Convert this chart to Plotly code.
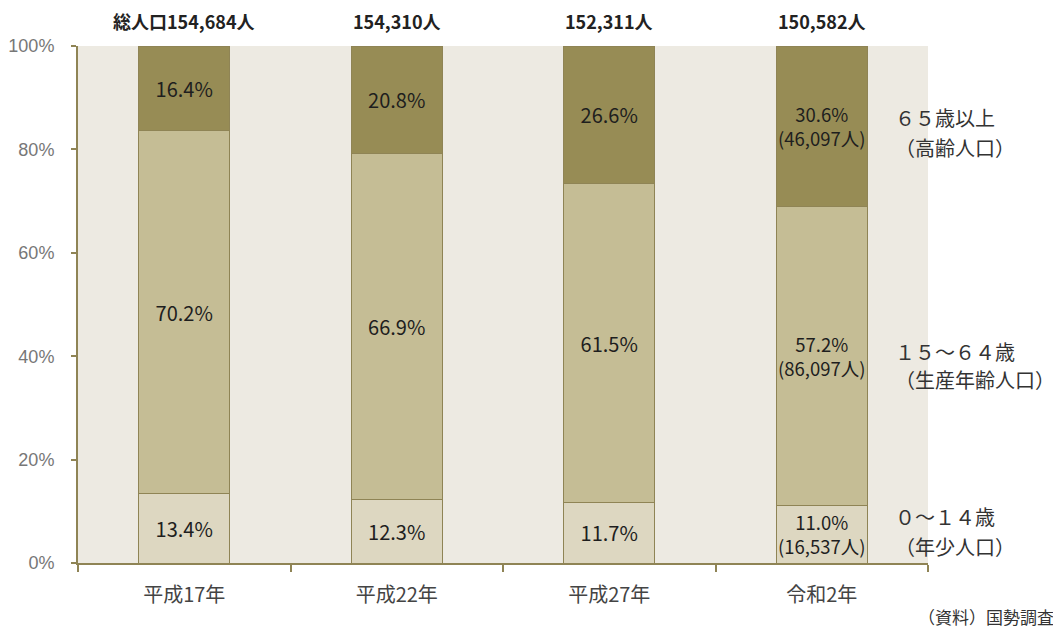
import plotly.graph_objects as go

categories = ["平成17年", "平成22年", "平成27年", "令和2年"]
age_0_14 = [13.4, 12.3, 11.7, 11.0]
age_15_64 = [70.2, 66.9, 61.5, 57.2]
age_65_plus = [16.4, 20.8, 26.6, 30.6]
totals = ["総人口154,684人", "154,310人", "152,311人", "150,582人"]
counts_0_14 = ["", "", "", "16,537人"]
counts_15_64 = ["", "", "", "86,097人"]
counts_65_plus = ["", "", "", "46,097人"]
y_ticks = [0, 20, 40, 60, 80, 100]

FONT = "Noto Sans CJK JP"
olive_line = "#8f8455"


def labels(vals, counts):
    out = []
    for v, c in zip(vals, counts):
        s = f"{v:.1f}%"
        if c:
            s += f"<br>({c})"
        out.append(s)
    return out


series = [
    ("0～14歳", age_0_14, counts_0_14, "#ddd7c1"),
    ("15～64歳", age_15_64, counts_15_64, "#c5bd95"),
    ("65歳以上", age_65_plus, counts_65_plus, "#978c55"),
]

fig = go.Figure()
for name, vals, counts, color in series:
    fig.add_trace(go.Bar(
        x=categories, y=vals, name=name,
        marker=dict(color=color, line=dict(color=olive_line, width=1)),
        text=labels(vals, counts), textposition="inside",
        insidetextanchor="middle", textangle=0, constraintext="none",
        textfont=dict(family=FONT, size=[20 if not c else 18.5 for c in counts],
                      color="#1e1e1e"),
        hoverinfo="skip", width=0.43,
    ))

for cat, t in zip(categories, totals):
    fig.add_annotation(x=cat, y=100, xref="x", yref="y", text=f"<b>{t}</b>",
                       showarrow=False, yanchor="middle", yshift=25,
                       font=dict(family=FONT, size=18, color="#222222"))

side = [
    (0.861, "６５歳以上"), (0.803, "（高齢人口）"),
    (0.410, "１５～６４歳"), (0.354, "（生産年齢人口）"),
    (0.089, "０～１４歳"), (0.031, "（年少人口）"),
]
for yy, t in side:
    fig.add_annotation(x=1.0, y=yy, xref="paper", yref="paper", text=t,
                       showarrow=False, xanchor="left", yanchor="middle", xshift=-35,
                       font=dict(family=FONT, size=20, color="#333333"))

fig.add_annotation(x=1.0, y=0, xref="paper", yref="paper", text="（資料）国勢調査",
                   showarrow=False, xanchor="right", yanchor="middle", xshift=128, yshift=-53,
                   font=dict(family=FONT, size=17, color="#333333"))

# page body has an 8px margin; compensate so the plot area sits where the reference has it
fig.update_layout(
    barmode="stack", barnorm="percent",
    width=1053, height=621,
    margin=dict(l=70, r=133, t=38, b=66),
    paper_bgcolor="white", plot_bgcolor="#edeae2",
    showlegend=False,
)
fig.update_xaxes(
    type="category", tickson="boundaries", ticks="outside", ticklen=7,
    tickcolor=olive_line, tickwidth=2, showline=True, linecolor=olive_line, linewidth=2,
    tickfont=dict(family=FONT, size=20, color="#444444"), showgrid=False,
    ticklabelstandoff=13, automargin=False,
)
fig.update_yaxes(
    range=[0, 100], tickvals=y_ticks, ticktext=[f"{v}%" for v in y_ticks],
    ticks="outside", ticklen=5, tickcolor=olive_line, tickwidth=2, showline=True,
    linecolor=olive_line, linewidth=2, showgrid=False, zeroline=False,
    tickfont=dict(family="Liberation Sans", size=18, color="#777777"),
    ticklabelstandoff=13, automargin=False,
)

fig.write_html("out.html")
